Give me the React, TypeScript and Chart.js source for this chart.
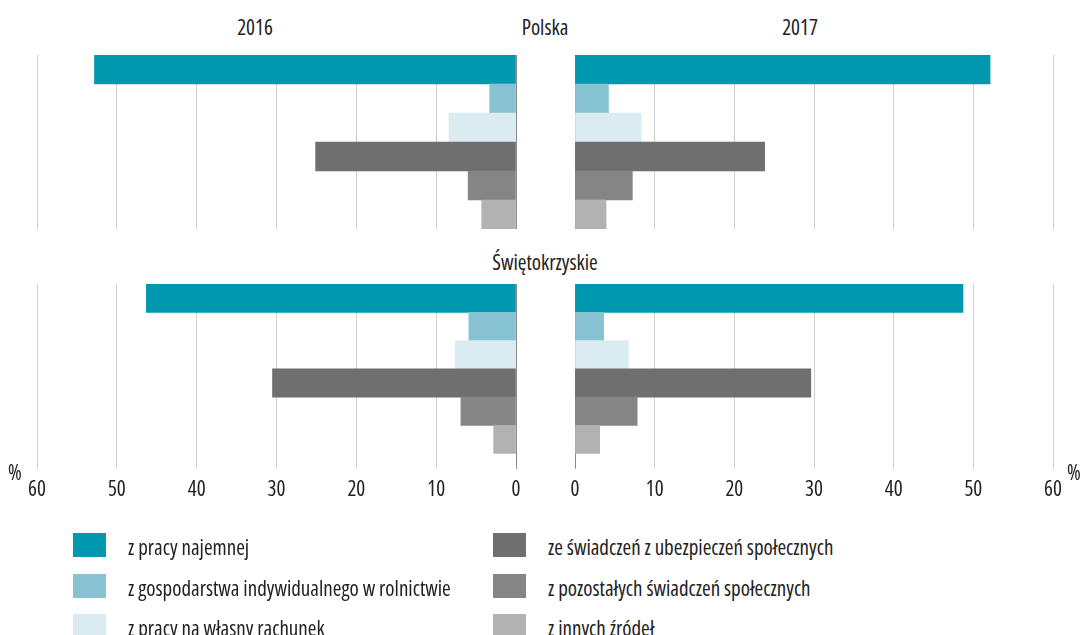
import React, { useEffect, useRef } from "react";
import { Chart, registerables } from "chart.js";

Chart.register(...registerables);

const categories = [
  "z pracy najemnej",
  "z gospodarstwa indywidualnego w rolnictwie",
  "z pracy na własny rachunek",
  "ze świadczeń z ubezpieczeń społecznych",
  "z pozostałych świadczeń społecznych",
  "z innych źródeł",
];
const colors = ["#0098AE", "#86C2D2", "#DAECF1", "#6F6F6F", "#858585", "#B2B2B2"];
const polska2016 = [52.8, 3.3, 8.4, 25.1, 6.0, 4.3];
const polska2017 = [52.1, 4.2, 8.3, 23.8, 7.2, 3.9];
const swiet2016 = [46.3, 5.9, 7.6, 30.5, 6.9, 2.8];
const swiet2017 = [48.7, 3.6, 6.7, 29.6, 7.8, 3.1];
const axisMin = 0;
const axisMax = 60;
const axisStep = 10;

const FONT = "'Open Sans', 'Liberation Sans', sans-serif";
const TEXT = "#222";
const PAD = 22;

type PanelProps = {
  data: number[];
  reverse: boolean;
  ticks: boolean;
  left: number;
  top: number;
  width: number;
  height: number;
};

function Panel({ data, reverse, ticks, left, top, width, height }: PanelProps) {
  const ref = useRef<HTMLCanvasElement | null>(null);
  useEffect(() => {
    if (!ref.current) return;
    const chart = new Chart(ref.current, {
      type: "bar",
      data: {
        labels: categories,
        datasets: [
          {
            data,
            backgroundColor: colors,
            borderWidth: 0,
            barPercentage: 1,
            categoryPercentage: 1,
          },
        ],
      },
      options: {
        indexAxis: "y",
        animation: false,
        responsive: false,
        maintainAspectRatio: false,
        layout: { padding: { left: PAD, right: PAD, top: 0, bottom: 0 } },
        plugins: { legend: { display: false }, tooltip: { enabled: false } },
        scales: {
          y: { display: false },
          x: {
            min: axisMin,
            max: axisMax,
            reverse,
            border: { display: false },
            grid: {
              color: (c: any) => (c.tick && c.tick.value === 0 ? "#8a8a8a" : "#cfcfcf"),
              lineWidth: 1,
              drawTicks: ticks,
              tickLength: 15,
            },
            ticks: {
              display: ticks,
              stepSize: axisStep,
              padding: 9,
              color: TEXT,
              font: { family: FONT, size: 21, weight: "condensed" as any },
              maxRotation: 0,
            },
          },
        },
      },
    });
    return () => chart.destroy();
  }, []);
  return (
    <canvas
      ref={ref}
      width={width}
      height={height}
      style={{ position: "absolute", left, top, width, height }}
    />
  );
}

const textStyle: React.CSSProperties = {
  position: "absolute",
  fontFamily: FONT,
  fontStretch: "79%",
  fontSize: 21,
  color: TEXT,
  whiteSpace: "nowrap",
  lineHeight: "24px",
};

function Centered({ x, y, children }: { x: number; y: number; children: React.ReactNode }) {
  return (
    <div style={{ ...textStyle, left: x - 150, top: y - 12, width: 300, textAlign: "center" }}>
      {children}
    </div>
  );
}

export default function App() {
  const legendPos = [
    [73, 533],
    [73, 574],
    [73, 614],
    [493, 533],
    [493, 574],
    [493, 614],
  ];
  return (
    <div
      style={{
        position: "absolute",
        left: 0,
        top: 0,
        width: 1088,
        height: 635,
        overflow: "hidden",
        background: "#fff",
      }}
    >
      <Centered x={255} y={27}>2016</Centered>
      <Centered x={545} y={27}>Polska</Centered>
      <Centered x={800} y={27}>2017</Centered>
      <Centered x={545} y={262}>Świętokrzyskie</Centered>

      <Panel data={polska2016} reverse={true} ticks={false} left={37 - PAD} top={55} width={479 + 2 * PAD} height={174} />
      <Panel data={polska2017} reverse={false} ticks={false} left={575 - PAD} top={55} width={478 + 2 * PAD} height={174} />
      <Panel data={swiet2016} reverse={true} ticks={true} left={37 - PAD} top={284} width={479 + 2 * PAD} height={228} />
      <Panel data={swiet2017} reverse={false} ticks={true} left={575 - PAD} top={284} width={478 + 2 * PAD} height={228} />

      <div style={{ ...textStyle, left: 8, top: 460 }}>%</div>
      <div style={{ ...textStyle, left: 1067, top: 460 }}>%</div>

      {categories.map((c, i) => (
        <React.Fragment key={c}>
          <div
            style={{
              position: "absolute",
              left: legendPos[i][0],
              top: legendPos[i][1],
              width: 33,
              height: 24,
              background: colors[i],
            }}
          />
          <div
            style={{
              ...textStyle,
              fontStretch: "82%",
              left: legendPos[i][0] + 55,
              top: legendPos[i][1] + 2,
            }}
          >
            {c}
          </div>
        </React.Fragment>
      ))}
    </div>
  );
}
